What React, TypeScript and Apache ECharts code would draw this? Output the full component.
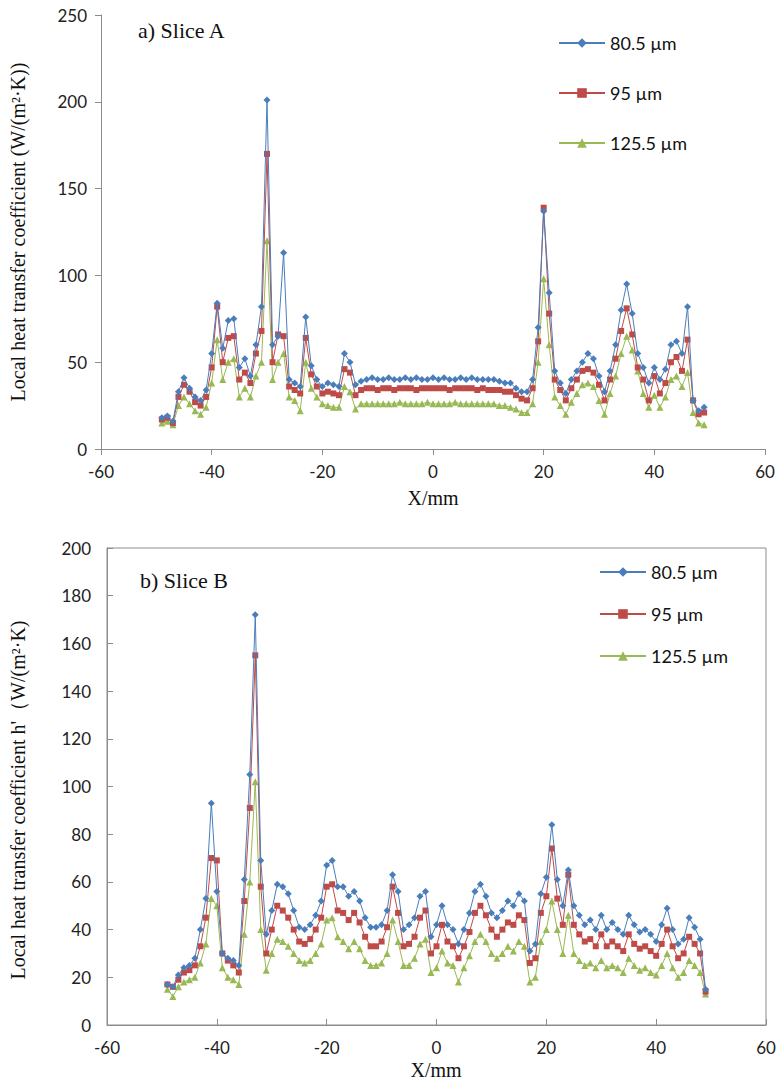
import React, { useEffect, useRef } from "react";
import * as echarts from "echarts";

const xPositions = [
  -49, -48, -47, -46, -45, -44, -43, -42, -41, -40,
  -39, -38, -37, -36, -35, -34, -33, -32, -31, -30,
  -29, -28, -27, -26, -25, -24, -23, -22, -21, -20,
  -19, -18, -17, -16, -15, -14, -13, -12, -11, -10,
  -9, -8, -7, -6, -5, -4, -3, -2, -1, 0,
  1, 2, 3, 4, 5, 6, 7, 8, 9, 10,
  11, 12, 13, 14, 15, 16, 17, 18, 19, 20,
  21, 22, 23, 24, 25, 26, 27, 28, 29, 30,
  31, 32, 33, 34, 35, 36, 37, 38, 39, 40,
  41, 42, 43, 44, 45, 46, 47, 48, 49,
];

const seriesNames = ["80.5 µm", "95 µm", "125.5 µm"];

// Slice A
const sliceA_805 = [
  18, 19, 16, 33, 41, 35, 30, 28, 34, 55,
  84, 58, 74, 75, 47, 52, 42, 60, 82, 201,
  60, 65, 113, 40, 38, 36, 76, 48, 40, 36,
  38, 37, 36, 55, 50, 37, 39, 40, 41, 40,
  40, 41, 40, 40, 41, 40, 41, 40, 40, 41,
  40, 41, 40, 40, 41, 40, 41, 40, 40, 40,
  40, 39, 38, 38, 35, 33, 33, 40, 70, 137,
  90, 45, 38, 32, 40, 45, 50, 55, 52, 42,
  33, 45, 60, 80, 95, 78, 55, 47, 38, 47,
  40, 46, 60, 62, 55, 82, 28, 22, 24,
];
const sliceA_95 = [
  17, 18, 15, 30, 37, 33, 27, 25, 30, 47,
  82, 50, 64, 65, 40, 44, 38, 55, 68, 170,
  50, 66, 65, 36, 34, 32, 64, 43, 36, 32,
  33, 32, 31, 46, 44, 31, 34, 35, 35, 34,
  35, 35, 34, 35, 35, 35, 34, 35, 35, 35,
  35, 35, 34, 35, 35, 35, 35, 34, 35, 34,
  34, 34, 33, 33, 31, 29, 28, 35, 62, 139,
  78, 40, 34, 28, 35, 40, 45, 46, 44, 37,
  28, 40, 52, 68, 81, 66, 47, 40, 28, 42,
  32, 38, 50, 53, 45, 63, 28, 20, 21,
];
const sliceA_1255 = [
  15, 16, 14, 25, 30, 26, 22, 20, 24, 38,
  63, 40, 50, 52, 30, 35, 30, 42, 50, 120,
  40, 50, 55, 30, 28, 22, 50, 35, 30, 26,
  25, 24, 24, 36, 33, 23, 26, 26, 26, 26,
  26, 26, 26, 27, 26, 26, 26, 26, 27, 26,
  26, 26, 26, 27, 26, 26, 26, 26, 26, 26,
  26, 25, 25, 24, 23, 21, 21, 26, 50, 98,
  60, 30, 25, 20, 27, 32, 37, 38, 36, 28,
  20, 32, 42, 55, 65, 57, 45, 32, 24, 31,
  24, 30, 40, 42, 36, 44, 21, 15, 14,
];

// Slice B
const sliceB_805 = [
  17, 16, 21, 24, 25, 28, 40, 53, 93, 56,
  30, 28, 27, 25, 61, 105, 172, 69, 38, 48,
  59, 58, 55, 48, 41, 40, 42, 46, 52, 67,
  69, 58, 58, 54, 56, 52, 45, 41, 41, 42,
  48, 63, 56, 40, 42, 45, 54, 56, 37, 42,
  50, 42, 40, 34, 40, 47, 56, 59, 54, 47,
  45, 48, 52, 50, 55, 52, 31, 34, 55, 62,
  84, 61, 50, 65, 50, 46, 42, 44, 40, 46,
  40, 43, 40, 38, 46, 42, 39, 40, 38, 35,
  42, 49, 40, 34, 36, 45, 41, 36, 15,
];
const sliceB_95 = [
  17, 16, 19, 22, 23, 25, 33, 45, 70, 69,
  30, 27, 25, 22, 52, 91, 155, 58, 30, 40,
  50, 48, 45, 40, 35, 34, 36, 40, 45, 58,
  59, 48, 47, 44, 47, 43, 37, 33, 33, 35,
  41, 58, 47, 33, 34, 37, 45, 48, 30, 33,
  42, 35, 33, 28, 33, 39, 47, 50, 46, 40,
  37, 40, 43, 42, 46, 44, 26, 28, 47, 54,
  74, 53, 42, 63, 42, 38, 35, 36, 33, 38,
  33, 35, 33, 31, 38, 34, 32, 33, 31, 29,
  34, 40, 33, 28, 30, 37, 34, 30, 14,
];
const sliceB_1255 = [
  15, 12, 16, 18, 19, 20, 26, 34, 53, 50,
  24, 20, 19, 17, 38, 60, 102, 40, 23, 30,
  36, 35, 33, 30, 27, 26, 27, 30, 34, 44,
  45, 37, 35, 32, 35, 32, 27, 25, 25, 26,
  30, 44, 35, 25, 25, 28, 34, 36, 22, 24,
  31, 26, 25, 18, 24, 29, 35, 38, 35, 30,
  28, 30, 33, 31, 35, 33, 18, 20, 35, 40,
  52, 40, 30, 46, 30, 27, 25, 26, 24, 27,
  24, 25, 24, 22, 28, 25, 23, 24, 22, 21,
  25, 30, 24, 20, 22, 27, 25, 22, 13,
];

const xTicks = { min: -60, max: 60, interval: 20 };
const yTicksA = { min: 0, max: 250, interval: 50 };
const yTicksB = { min: 0, max: 200, interval: 20 };

const colors = ["#4A7EBB", "#BE4B48", "#98B954"];
const symbols = ["diamond", "rect", "triangle"];
const symbolSizes = [7, 6, 7];

const SANS = "Lato, 'Open Sans', sans-serif";
const SERIF = "'Liberation Serif', 'DejaVu Serif', serif";

function pairs(vals: number[]) {
  return xPositions.map((x, i) => [x, vals[i]]);
}

export default function App() {
  const ref = useRef<HTMLDivElement>(null);
  useEffect(() => {
    document.body.style.margin = "0";
    if (!ref.current) return;
    const chart = echarts.init(ref.current, undefined, { renderer: "svg" });
    const axisLine = { show: true, onZero: false, lineStyle: { color: "#8c8c8c", width: 1 } };
    const labelStyle = { color: "#222", fontSize: 17, fontFamily: SANS };

    const dataA = [sliceA_805, sliceA_95, sliceA_1255];
    const dataB = [sliceB_805, sliceB_95, sliceB_1255];

    const mkSeries = (data: number[][], gi: number) =>
      data.map((vals, i) => ({
        name: seriesNames[i],
        type: "line",
        xAxisIndex: gi,
        yAxisIndex: gi,
        data: pairs(vals),
        symbol: symbols[i],
        symbolSize: symbolSizes[i],
        showSymbol: true,
        color: colors[i],
        lineStyle: { width: 1, color: colors[i] },
        itemStyle: { color: colors[i] },
        z: 10 - i,
      }));

    const legendCommon = {
      orient: "vertical",
      itemWidth: 46,
      itemHeight: 12,
      data: seriesNames,
      textStyle: { fontSize: 18, fontFamily: SANS, color: "#111" },
    };

    chart.setOption({
      animation: false,
      backgroundColor: "#fff",
      legend: [
        { ...legendCommon, left: 553, top: 29, itemGap: 32 },
        { ...legendCommon, left: 594, top: 558, itemGap: 24 },
      ],
      grid: [
        { left: 101, top: 15, width: 664, height: 434, show: false },
        {
          left: 107,
          top: 548,
          width: 659,
          height: 477,
          show: true,
          borderColor: "#8c8c8c",
          borderWidth: 1,
        },
      ],
      xAxis: [
        {
          type: "value",
          gridIndex: 0,
          ...xTicks,
          axisLine,
          axisTick: { show: true, inside: false, length: 6, lineStyle: { color: "#8c8c8c" } },
          axisLabel: { ...labelStyle, margin: 14 },
          splitLine: { show: false },
        },
        {
          type: "value",
          gridIndex: 1,
          ...xTicks,
          axisLine,
          axisTick: { show: true, inside: true, length: 6, lineStyle: { color: "#8c8c8c" } },
          axisLabel: { ...labelStyle, margin: 14 },
          splitLine: { show: false },
        },
      ],
      yAxis: [
        {
          type: "value",
          gridIndex: 0,
          ...yTicksA,
          axisLine,
          axisTick: { show: true, inside: false, length: 6, lineStyle: { color: "#8c8c8c" } },
          axisLabel: { ...labelStyle, margin: 14 },
          splitLine: { show: false },
        },
        {
          type: "value",
          gridIndex: 1,
          ...yTicksB,
          axisLine,
          axisTick: { show: true, inside: true, length: 6, lineStyle: { color: "#8c8c8c" } },
          axisLabel: { ...labelStyle, margin: 16 },
          splitLine: { show: false },
        },
      ],
      graphic: [
        {
          type: "text",
          left: 138,
          top: 19,
          style: { text: "a) Slice A", font: `22px ${SERIF}`, fill: "#111" },
        },
        {
          type: "text",
          left: 140,
          top: 569,
          style: { text: "b) Slice B", font: `22px ${SERIF}`, fill: "#111" },
        },
        {
          type: "text",
          x: 433,
          y: 498,
          style: {
            text: "X/mm",
            font: `20px ${SERIF}`,
            fill: "#111",
            align: "center",
            verticalAlign: "middle",
          },
        },
        {
          type: "text",
          x: 436,
          y: 1070,
          style: {
            text: "X/mm",
            font: `20px ${SERIF}`,
            fill: "#111",
            align: "center",
            verticalAlign: "middle",
          },
        },
        {
          type: "text",
          x: 18,
          y: 232,
          rotation: Math.PI / 2,
          style: {
            text: "Local heat transfer coefficient (W/(m²·K))",
            font: `20px ${SERIF}`,
            fill: "#111",
            align: "center",
            verticalAlign: "middle",
          },
        },
        {
          type: "text",
          x: 18,
          y: 800,
          rotation: Math.PI / 2,
          style: {
            text: "Local heat transfer coefficient h'（W/(m²·K)",
            font: `20px ${SERIF}`,
            fill: "#111",
            align: "center",
            verticalAlign: "middle",
          },
        },
      ],
      series: [...mkSeries(dataA, 0), ...mkSeries(dataB, 1)],
    });
    return () => chart.dispose();
  }, []);
  return <div ref={ref} style={{ width: 780, height: 1082 }} />;
}
